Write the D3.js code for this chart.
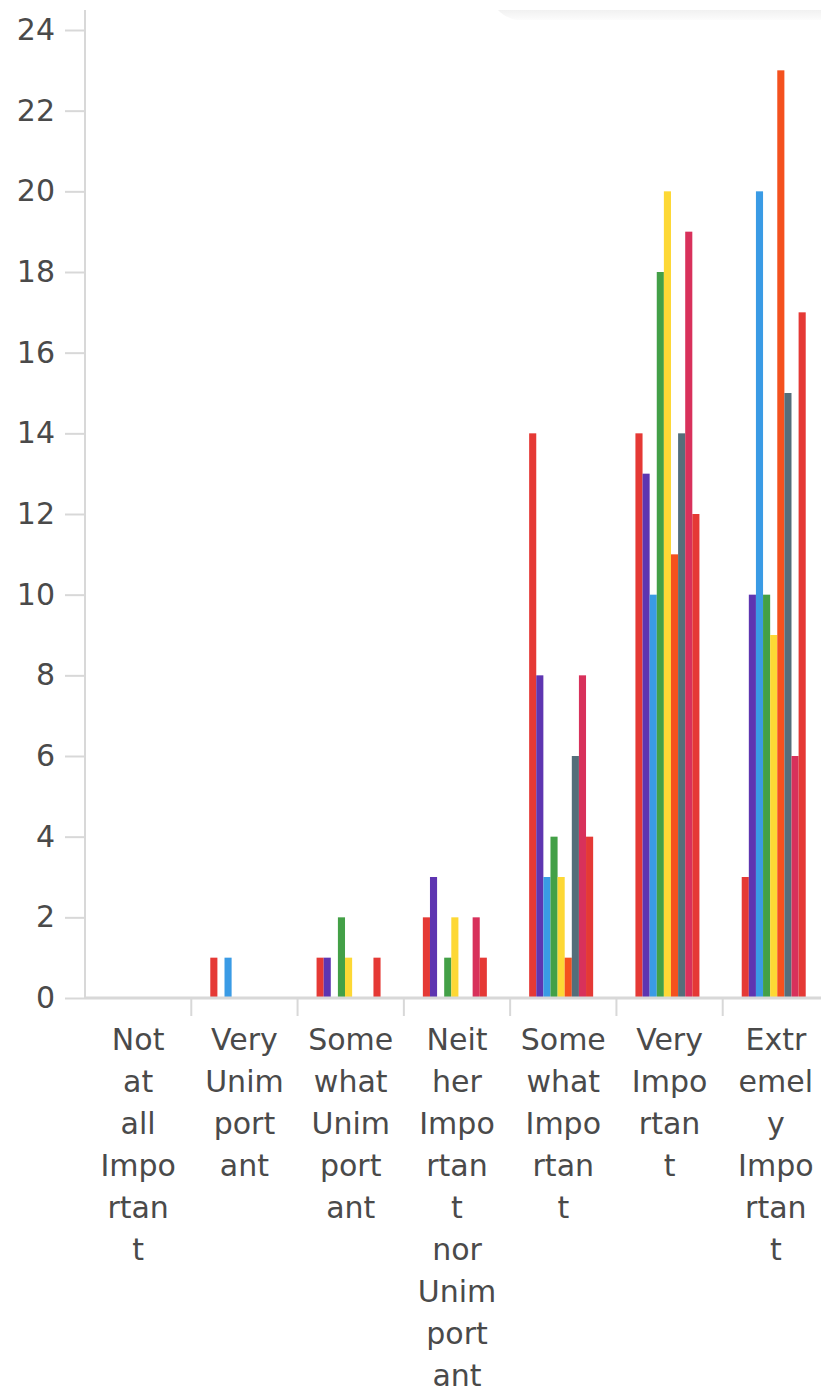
<!DOCTYPE html>
<html>
<head>
<meta charset="utf-8">
<script src="https://cdn.jsdelivr.net/npm/d3@7/dist/d3.min.js"></script>
<style>
  html, body { margin: 0; padding: 0; background: #fff; }
  svg { display: block; }
  text { font-family: "DejaVu Sans", sans-serif; fill: #4a4a4a; }
</style>
</head>
<body>
<script>
// Importance ratings, one column per answer level
const categories = [
  "Not at all Important",
  "Very Unimportant",
  "Somewhat Unimportant",
  "Neither Important nor Unimportant",
  "Somewhat Important",
  "Very Important",
  "Extremely Important"
];

// Response counts for each of the nine rated items, in category order
const item1 = [0, 1, 1, 2, 14, 14, 3];
const item2 = [0, 0, 1, 3, 8, 13, 10];
const item3 = [0, 1, 0, 0, 3, 10, 20];
const item4 = [0, 0, 2, 1, 4, 18, 10];
const item5 = [0, 0, 1, 2, 3, 20, 9];
const item6 = [0, 0, 0, 0, 1, 11, 23];
const item7 = [0, 0, 0, 0, 6, 14, 15];
const item8 = [0, 0, 0, 2, 8, 19, 6];
const item9 = [0, 0, 1, 1, 4, 12, 17];

const seriesValues = [item1, item2, item3, item4, item5, item6, item7, item8, item9];
const seriesColors = ["#e53935", "#5e35b1", "#3a9be5", "#43a047", "#fdd835",
                      "#f4511e", "#546e7a", "#d8315b", "#e53935"];

const yTicks = [0, 2, 4, 6, 8, 10, 12, 14, 16, 18, 20, 22, 24];

const W = 821, H = 1396;
const svg = d3.select("body").append("svg").attr("width", W).attr("height", H);

// faint shadow strip across the top right
const defs = svg.append("defs");
const grad = defs.append("linearGradient").attr("id", "strip")
  .attr("x1", 0).attr("y1", 0).attr("x2", 0).attr("y2", 1);
grad.append("stop").attr("offset", "0%").attr("stop-color", "#f1f1f1");
grad.append("stop").attr("offset", "100%").attr("stop-color", "#fcfcfc");
svg.append("path")
  .attr("d", "M498,10 L821,10 L821,20 L516,20 Q504,17 498,10 Z")
  .attr("fill", "url(#strip)");

const axisX = 85, baseY = 998;
const x0 = d3.scaleBand().domain(categories).range([axisX, 829]);
const groupW = 64, groupOff = 19;
const x1 = d3.scaleBand().domain(d3.range(seriesValues.length)).range([0, groupW]);
const y = d3.scaleLinear().domain([0, 24]).range([baseY, 30]);

const axisColor = "#d8d8d8";

// y axis
const yAxis = svg.append("g").attr("transform", `translate(${axisX},0)`)
  .call(d3.axisLeft(y).tickValues(yTicks).tickSize(20).tickPadding(10).tickFormat(d3.format("d")));
yAxis.select(".domain").remove();
yAxis.selectAll(".tick line").attr("stroke", axisColor).attr("stroke-width", 2);
yAxis.selectAll(".tick text").attr("font-size", 30).attr("fill", "#4a4a4a")
  .style("font-family", "'DejaVu Sans', sans-serif");
yAxis.append("line").attr("x1", 0).attr("x2", 0).attr("y1", 10).attr("y2", baseY)
  .attr("stroke", axisColor).attr("stroke-width", 2);

// bars
const groups = svg.append("g").selectAll("g")
  .data(categories)
  .join("g")
  .attr("transform", d => `translate(${x0(d) + groupOff},0)`);

groups.selectAll("rect")
  .data((c, ci) => seriesValues.map((vals, si) => ({ si, v: vals[ci] })))
  .join("rect")
  .attr("x", d => x1(d.si))
  .attr("width", x1.bandwidth())
  .attr("y", d => y(d.v))
  .attr("height", d => baseY - y(d.v))
  .attr("fill", d => seriesColors[d.si]);

// x axis line and separators between categories
svg.append("line").attr("x1", axisX).attr("x2", W).attr("y1", baseY).attr("y2", baseY)
  .attr("stroke", axisColor).attr("stroke-width", 3);
svg.append("g").selectAll("line")
  .data(categories.slice(1))
  .join("line")
  .attr("x1", d => x0(d)).attr("x2", d => x0(d))
  .attr("y1", baseY).attr("y2", baseY + 18)
  .attr("stroke", axisColor).attr("stroke-width", 2);

// category labels: each word broken into chunks of four characters
function chunks(label) {
  const out = [];
  label.split(" ").forEach(w => {
    for (let i = 0; i < w.length; i += 4) out.push(w.slice(i, i + 4));
  });
  return out;
}
const labels = svg.append("g").selectAll("text")
  .data(categories)
  .join("text")
  .attr("text-anchor", "middle")
  .attr("font-size", 30)
  .attr("x", d => x0(d) + x0.bandwidth() / 2)
  .attr("y", 1050);
labels.selectAll("tspan")
  .data(d => chunks(d).map(t => ({ t, x: x0(d) + x0.bandwidth() / 2 })))
  .join("tspan")
  .attr("x", d => d.x)
  .attr("dy", (d, i) => i === 0 ? 0 : 42)
  .text(d => d.t);
</script>
</body>
</html>
